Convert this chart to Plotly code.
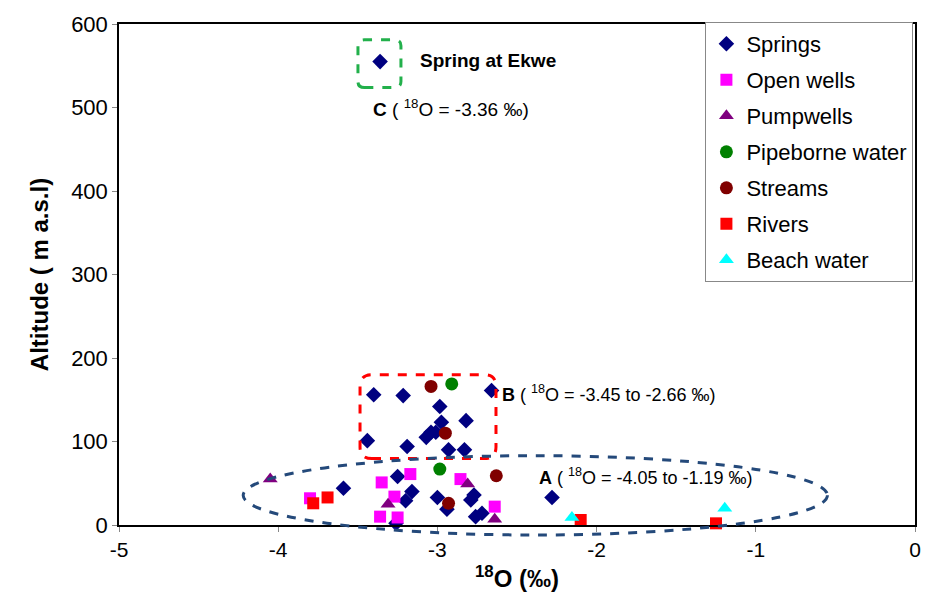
import plotly.graph_objects as go

# ---- data (δ18O ‰, altitude m a.s.l) ----
springs_x = [-3.40, -3.215, -2.66, -2.985, -2.975, -2.82, -3.07, -3.04, -3.01, -3.44, -3.19, -2.93, -2.83,
             -3.59, -3.25, -3.16, -3.20, -3.00, -2.94, -2.79, -2.77, -2.76, -2.72, -2.28, -3.26, -3.36]
springs_y = [156, 155, 161, 142, 123, 125, 105, 111, 111, 101, 94, 90, 90,
             44, 58, 40, 29, 33, 19, 30, 36, 10, 14, 33, 2, 555]
openwells_x = [-3.80, -3.35, -3.17, -3.27, -3.36, -3.25, -2.855, -2.64]
openwells_y = [32, 51, 61, 34, 10, 9, 55, 22]
pumpwells_x = [-4.05, -3.31, -2.81, -2.64]
pumpwells_y = [55, 25, 49, 7]
pipe_x = [-2.91, -2.985]
pipe_y = [169, 67]
streams_x = [-3.04, -2.95, -2.63, -2.93]
streams_y = [166, 110, 59, 26]
rivers_x = [-3.78, -3.69, -2.10, -1.25]
rivers_y = [26, 33, 6, 2]
beach_x = [-2.155, -1.195]
beach_y = [9, 20]

x_range = [-5, 0]
y_range = [0, 600]
x_ticks = [-5, -4, -3, -2, -1, 0]
x_ticklabels = ["-5", "-4", "-3", "-2", "-1", "0"]

series = [
    ("Springs", springs_x, springs_y, "diamond", "#000080", 12),
    ("Open wells", openwells_x, openwells_y, "square", "#FF00FF", 12),
    ("Pumpwells", pumpwells_x, pumpwells_y, "triangle-up", "#800080", 13),
    ("Pipeborne water", pipe_x, pipe_y, "circle", "#008000", 13),
    ("Streams", streams_x, streams_y, "circle", "#800000", 13),
    ("Rivers", rivers_x, rivers_y, "square", "#FF0000", 12),
    ("Beach water", beach_x, beach_y, "triangle-up", "#00FFFF", 13),
]

fig = go.Figure()
for i, (name, xs, ys, sym, col, sz) in enumerate(series):
    fig.add_trace(go.Scatter(
        x=xs, y=ys, mode="markers", name=name, legendgroup=f"g{i}",
        marker=dict(symbol=sym, color=col, size=sz, line=dict(width=0)),
        cliponaxis=False,
    ))


def rounded_rect(x0, x1, y0, y1, rx, ry):
    return (f"M {x0+rx},{y0} L {x1-rx},{y0} Q {x1},{y0} {x1},{y0+ry} "
            f"L {x1},{y1-ry} Q {x1},{y1} {x1-rx},{y1} "
            f"L {x0+rx},{y1} Q {x0},{y1} {x0},{y1-ry} "
            f"L {x0},{y0+ry} Q {x0},{y0} {x0+rx},{y0} Z")


def to_dom(v, r):
    return (v - r[0]) / (r[1] - r[0])


shapes = [
    dict(type="path", xref="x", yref="y",
         path=rounded_rect(-3.499, -3.229, 524, 581, 0.04, 7),
         line=dict(color="#22B04B", width=3, dash="dash")),
    dict(type="path", xref="x", yref="y",
         path=rounded_rect(-3.486, -2.632, 79.5, 180, 0.075, 14),
         line=dict(color="#FF0000", width=3, dash="dash")),
    dict(type="circle", xref="x domain", yref="y domain",
         x0=to_dom(-4.22, x_range), x1=to_dom(-0.55, x_range),
         y0=to_dom(-12, y_range), y1=to_dom(83, y_range),
         line=dict(color="#24497A", width=3, dash="dash")),
]

afont = dict(family="Liberation Sans, Arial", size=18, color="black")
annotations = [
    dict(x=-3.12, y=556, text="<b>Spring at Ekwe</b>", showarrow=False, xanchor="left", yanchor="middle",
         font=dict(family="Liberation Sans, Arial", size=19, color="black")),
    dict(x=-3.42, y=500, text="<b>C</b> ( <sup>18</sup>O = -3.36 ‰)", showarrow=False, xanchor="left",
         yanchor="middle", font=dict(family="Liberation Sans, Arial", size=19, color="black")),
    dict(x=-2.607, y=157, text="<b>B</b> ( <sup>18</sup>O = -3.45 to -2.66 ‰)", showarrow=False, xanchor="left",
         yanchor="middle", font=afont),
    dict(x=-2.375, y=58, text="<b>A</b> ( <sup>18</sup>O = -4.05 to -1.19 ‰)", showarrow=False, xanchor="left",
         yanchor="middle", font=afont),
]

fig.update_layout(
    width=935, height=605,
    margin=dict(l=119, r=20, t=19, b=80),
    paper_bgcolor="white", plot_bgcolor="white",
    font=dict(family="Liberation Sans, Arial", color="black"),
    shapes=shapes, annotations=annotations,
    legend=dict(x=0.998, xanchor="right", y=1.004, yanchor="top",
                bordercolor="#888888", borderwidth=1, bgcolor="white",
                font=dict(size=22), tracegroupgap=4.4, itemwidth=30,
                traceorder="grouped"),
    xaxis=dict(range=x_range, tickvals=x_ticks, ticktext=x_ticklabels,
               showgrid=False, zeroline=False,
               showline=True, linecolor="black", linewidth=1.5, mirror=True,
               ticks="outside", ticklen=5, tickcolor="#888888",
               tickfont=dict(size=21),
               title=dict(text="<b><sup>18</sup>O (‰)</b>", font=dict(size=24), standoff=10)),
    yaxis=dict(range=y_range, dtick=100, showgrid=False, zeroline=False,
               showline=True, linecolor="black", linewidth=1.5, mirror=True,
               ticks="outside", ticklen=5, tickcolor="#888888",
               tickfont=dict(size=22),
               title=dict(text="<b>Altitude ( m a.s.l)</b>", font=dict(size=24), standoff=16)),
)

fig.write_html("out.html")
